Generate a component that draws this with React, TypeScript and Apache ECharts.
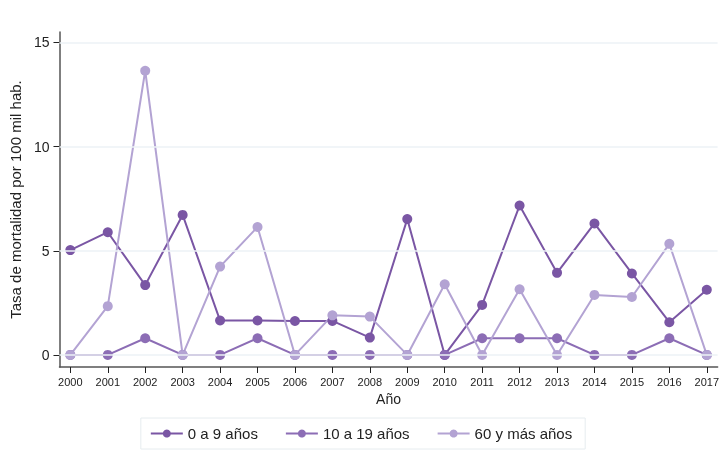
import React, { useEffect, useRef } from "react";
import * as echarts from "echarts";

const years = [2000, 2001, 2002, 2003, 2004, 2005, 2006, 2007, 2008, 2009, 2010, 2011, 2012, 2013, 2014, 2015, 2016, 2017];
const yTicks = [0, 5, 10, 15];
const s0a9 = [5.03, 5.89, 3.35, 6.72, 1.65, 1.65, 1.63, 1.63, 0.83, 6.52, 0, 2.4, 7.17, 3.94, 6.31, 3.91, 1.57, 3.13];
const s10a19 = [0, 0, 0.8, 0, 0, 0.8, 0, 0, 0, 0, 0, 0.8, 0.8, 0.8, 0, 0, 0.8, 0];
const s60 = [0, 2.34, 13.64, 0, 4.24, 6.14, 0, 1.9, 1.84, 0, 3.39, 0, 3.15, 0, 2.88, 2.78, 5.33, 0];
const names = ["0 a 9 años", "10 a 19 años", "60 y más años"];
const colors = ["#7a56a4", "#8c6db5", "#b3a3d3"];

export default function App() {
  const ref = useRef<HTMLDivElement>(null);
  useEffect(() => {
    if (!ref.current) return;
    const chart = echarts.init(ref.current, null, { renderer: "svg" });
    const font = "Liberation Sans, Arial, sans-serif";
    const mk = (name: string, vals: number[], color: string) => ({
      name,
      type: "line",
      data: years.map((y, i) => [y, vals[i]]),
      symbol: "circle",
      symbolSize: 10,
      lineStyle: { color, width: 2 },
      itemStyle: { color },
      z: 3,
    });
    chart.setOption({
      animation: false,
      textStyle: { fontFamily: font },
      grid: { left: 59, right: 0, top: 32, bottom: 89, containLabel: false },
      xAxis: {
        type: "value",
        min: 1999.71,
        max: 2017.29,
        name: "Año",
        nameLocation: "middle",
        nameGap: 23,
        nameTextStyle: { color: "#222", fontSize: 14, fontFamily: font },
        axisLine: { show: true, onZero: false, lineStyle: { color: "#555", width: 1.5 } },
        axisTick: { show: true, customValues: years, length: 6, lineStyle: { color: "#222" } },
        axisLabel: {
          customValues: years,
          color: "#222",
          fontSize: 11,
          margin: 9,
          fontFamily: font,
          formatter: (v: number) => String(Math.round(v)),
        },
        splitLine: { show: false },
      },
      yAxis: {
        type: "value",
        min: -0.58,
        max: 15.5,
        name: "Tasa de mortalidad por 100 mil hab.",
        nameLocation: "middle",
        nameGap: 35,
        nameTextStyle: { color: "#222", fontSize: 15, fontFamily: font },
        axisLine: { show: true, onZero: false, lineStyle: { color: "#555", width: 1.5 } },
        axisTick: { show: true, customValues: yTicks, length: 6, lineStyle: { color: "#222" } },
        axisLabel: { customValues: yTicks, color: "#222", fontSize: 14, margin: 10, fontFamily: font },
        splitLine: { show: false },
      },
      legend: {
        bottom: 7,
        left: "center",
        data: names,
        itemWidth: 32,
        itemHeight: 10,
        itemGap: 27,
        padding: [8, 13, 8, 9],
        borderColor: "#e6ecef",
        borderWidth: 1,
        textStyle: { color: "#222", fontSize: 15, fontFamily: font },
      },
      series: [
        {
          type: "line",
          data: [],
          silent: true,
          markLine: {
            silent: true,
            symbol: "none",
            label: { show: false },
            lineStyle: { color: "#edf2f6", width: 1.5, type: "solid" },
            data: yTicks.map((v) => ({ yAxis: v })),
          },
          z: 1,
        },
        mk(names[0], s0a9, colors[0]),
        mk(names[1], s10a19, colors[1]),
        mk(names[2], s60, colors[2]),
      ],
    });
    return () => chart.dispose();
  }, []);
  return <div ref={ref} style={{ position: "fixed", left: 0, top: 0, width: 722, height: 456 }} />;
}
